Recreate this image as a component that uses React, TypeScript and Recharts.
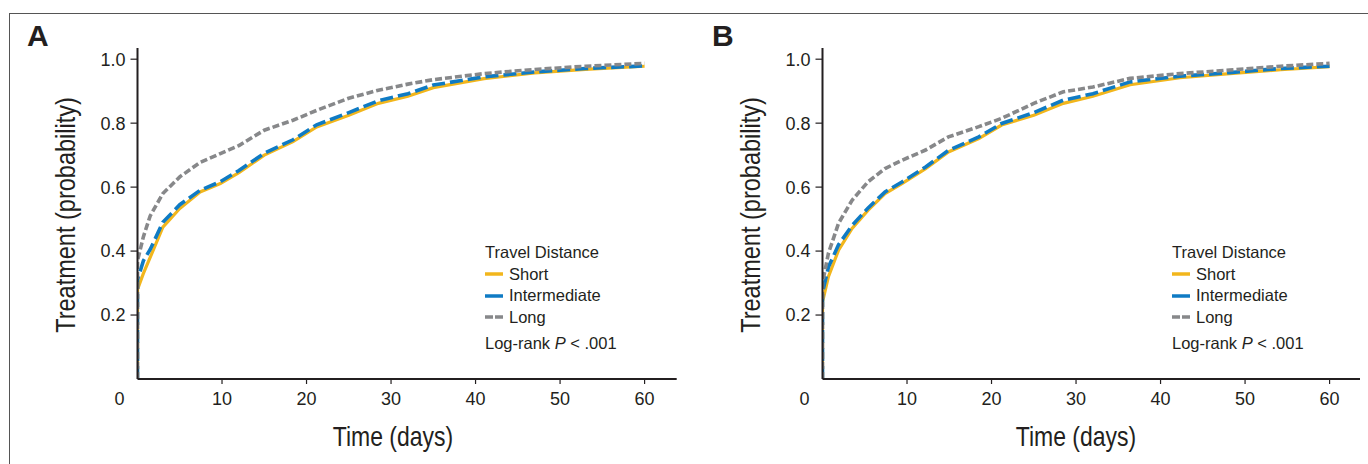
import type { FC } from "react";
import { Line, LineChart, XAxis, YAxis } from "recharts";

// Panel A: cumulative probability of treatment
const daysA = [0, 0, 0.7, 1.5, 3, 5, 7.4, 9.8, 12, 15, 18.4, 21.2, 25, 28.5, 32, 35, 41, 47, 53, 60];
const shortA = [0, 0.28, 0.33, 0.38, 0.475, 0.533, 0.585, 0.611, 0.645, 0.7, 0.742, 0.788, 0.825, 0.862, 0.884, 0.911, 0.939, 0.957, 0.968, 0.978];
const intermediateA = [0, 0.31, 0.37, 0.405, 0.49, 0.545, 0.59, 0.617, 0.652, 0.706, 0.748, 0.795, 0.833, 0.87, 0.892, 0.919, 0.945, 0.96, 0.971, 0.979];
const longA = [0, 0.37, 0.445, 0.51, 0.58, 0.632, 0.677, 0.705, 0.73, 0.778, 0.809, 0.84, 0.878, 0.903, 0.922, 0.936, 0.955, 0.968, 0.978, 0.987];

// Panel B
const daysB = [0, 0, 0.7, 1.9, 3.5, 5.4, 7.4, 9.4, 12.2, 14.9, 18.5, 21.2, 25, 28.5, 32, 36.4, 42.3, 48.2, 54.2, 60];
const shortB = [0, 0.24, 0.32, 0.403, 0.471, 0.528, 0.58, 0.611, 0.658, 0.71, 0.752, 0.794, 0.825, 0.862, 0.884, 0.92, 0.942, 0.955, 0.967, 0.977];
const intermediateB = [0, 0.27, 0.35, 0.42, 0.48, 0.535, 0.585, 0.616, 0.663, 0.715, 0.757, 0.799, 0.833, 0.872, 0.892, 0.929, 0.947, 0.958, 0.971, 0.978];
const longB = [0, 0.3, 0.393, 0.487, 0.559, 0.617, 0.658, 0.684, 0.716, 0.757, 0.789, 0.815, 0.862, 0.898, 0.913, 0.94, 0.955, 0.966, 0.978, 0.987];

const xTicks = [0, 10, 20, 30, 40, 50, 60];
const yTicks = [0.2, 0.4, 0.6, 0.8, 1.0];
const seriesLabels = ["Short", "Intermediate", "Long"];

const INK = "#231f20";
const YELLOW = "#f2b61c";
const BLUE = "#0f7bc4";
const GRAY = "#87888a";
const FONT = "'Liberation Sans', Arial, Helvetica, sans-serif";

const buildRows = (days: number[], s: number[], m: number[], l: number[]) =>
  days.map((day, i) => ({ day, short: s[i], intermediate: m[i], long: l[i] }));

const TICK_SIZE = 5;
const TICK_MARGIN = 8;

const XTick = (props: any) => {
  const { x, y, payload } = props;
  const v = payload.value;
  const axisY = y - TICK_SIZE - TICK_MARGIN;
  return (
    <g>
      {v !== 0 && <line x1={x} x2={x} y1={axisY} y2={axisY + TICK_SIZE} stroke={INK} strokeWidth={1.2} />}
      <text x={v === 0 ? x - 18 : x} y={y} dy="0.71em" textAnchor="middle" fill={INK} fontSize={18} fontFamily={FONT}>
        {v}
      </text>
    </g>
  );
};

const LegendBox: FC<{ left: number }> = ({ left }) => (
  <div
    style={{
      position: "absolute",
      left,
      top: 242,
      fontFamily: FONT,
      fontSize: 16.5,
      color: INK,
      lineHeight: "21.5px",
      whiteSpace: "nowrap",
    }}
  >
    <div>Travel Distance</div>
    {seriesLabels.map((name, i) => (
      <div key={name} style={{ display: "flex", alignItems: "center" }}>
        <svg width={24} height={10}>
          <line
            x1={0}
            x2={18}
            y1={5}
            y2={5}
            stroke={[YELLOW, BLUE, GRAY][i]}
            strokeWidth={3.5}
            strokeDasharray={i === 2 ? "8 2" : undefined}
          />
        </svg>
        <span>{name}</span>
      </div>
    ))}
    <div style={{ marginTop: 5 }}>
      Log-rank <i>P</i> &lt; .001
    </div>
  </div>
);

type PanelProps = {
  letter: string;
  left: number;
  width: number;
  marginRight: number;
  xMax: number;
  rows: ReturnType<typeof buildRows>;
  legendLeft: number;
  titleCenter: number;
};

const Panel: FC<PanelProps> = ({ letter, left, width, marginRight, xMax, rows, legendLeft, titleCenter }) => (
  <div style={{ position: "absolute", left, top: 0, width, height: 464 }}>
    <div style={{ position: "absolute", left: 27, top: 19, fontFamily: FONT, fontWeight: 700, fontSize: 30, color: INK }}>
      {letter}
    </div>
    <div
      style={{
        position: "absolute",
        left: 66,
        top: 215,
        transform: "translate(-50%, -50%) rotate(-90deg) scaleX(0.84)",
        whiteSpace: "nowrap",
        fontFamily: FONT,
        fontSize: 28,
        color: INK,
      }}
    >
      Treatment (probability)
    </div>
    <div
      style={{
        position: "absolute",
        left: titleCenter,
        top: 437,
        transform: "translate(-50%, -50%) scaleX(0.82)",
        whiteSpace: "nowrap",
        fontFamily: FONT,
        fontSize: 28,
        color: INK,
      }}
    >
      Time (days)
    </div>
    <LegendBox left={legendLeft} />
    <div style={{ position: "absolute", left: 0, top: 0 }}>
      <LineChart width={width} height={464} data={rows} margin={{ top: 48, right: marginRight, bottom: 55, left: 77.5 }}>
        <XAxis
          type="number"
          dataKey="day"
          domain={[0, xMax]}
          ticks={xTicks}
          allowDataOverflow
          height={30}
          axisLine={{ stroke: INK, strokeWidth: 2.2 }}
          tickLine={false}
          tickSize={TICK_SIZE}
          tickMargin={TICK_MARGIN}
          tick={<XTick />}
          interval={0}
        />
        <YAxis
          type="number"
          domain={[0, 1.035]}
          ticks={yTicks}
          width={60}
          axisLine={{ stroke: INK, strokeWidth: 2 }}
          tickLine={{ stroke: INK, strokeWidth: 1.2 }}
          tickSize={7}
          tickMargin={5}
          tick={{ fill: INK, fontSize: 18, fontFamily: FONT }}
          tickFormatter={(v: number) => v.toFixed(1)}
          interval={0}
        />
        <Line type="linear" dataKey="short" stroke={YELLOW} strokeWidth={3.2} dot={false} activeDot={false} isAnimationActive={false} />
        <Line
          type="linear"
          dataKey="intermediate"
          stroke={BLUE}
          strokeWidth={3.6}
          strokeDasharray="13 5"
          dot={false}
          activeDot={false}
          isAnimationActive={false}
        />
        <Line
          type="linear"
          dataKey="long"
          stroke={GRAY}
          strokeWidth={3.6}
          strokeDasharray="7 3"
          dot={false}
          activeDot={false}
          isAnimationActive={false}
        />
      </LineChart>
    </div>
  </div>
);

export default function App() {
  const rowsA = buildRows(daysA, shortA, intermediateA, longA);
  const rowsB = buildRows(daysB, shortB, intermediateB, longB);
  return (
    <div style={{ position: "fixed", left: 0, top: 0, width: 1368, height: 464, background: "#fff", overflow: "hidden" }}>
      <div
        style={{
          position: "absolute",
          left: 9,
          top: 13,
          width: 1400,
          height: 500,
          borderTop: "1.5px solid #555",
          borderLeft: "1.5px solid #555",
        }}
      />
      <Panel letter="A" left={0} width={700} marginRight={23.3} xMax={63.8} rows={rowsA} legendLeft={485} titleCenter={393} />
      <Panel letter="B" left={685} width={683} marginRight={8} xMax={63.6} rows={rowsB} legendLeft={487} titleCenter={391} />
    </div>
  );
}
